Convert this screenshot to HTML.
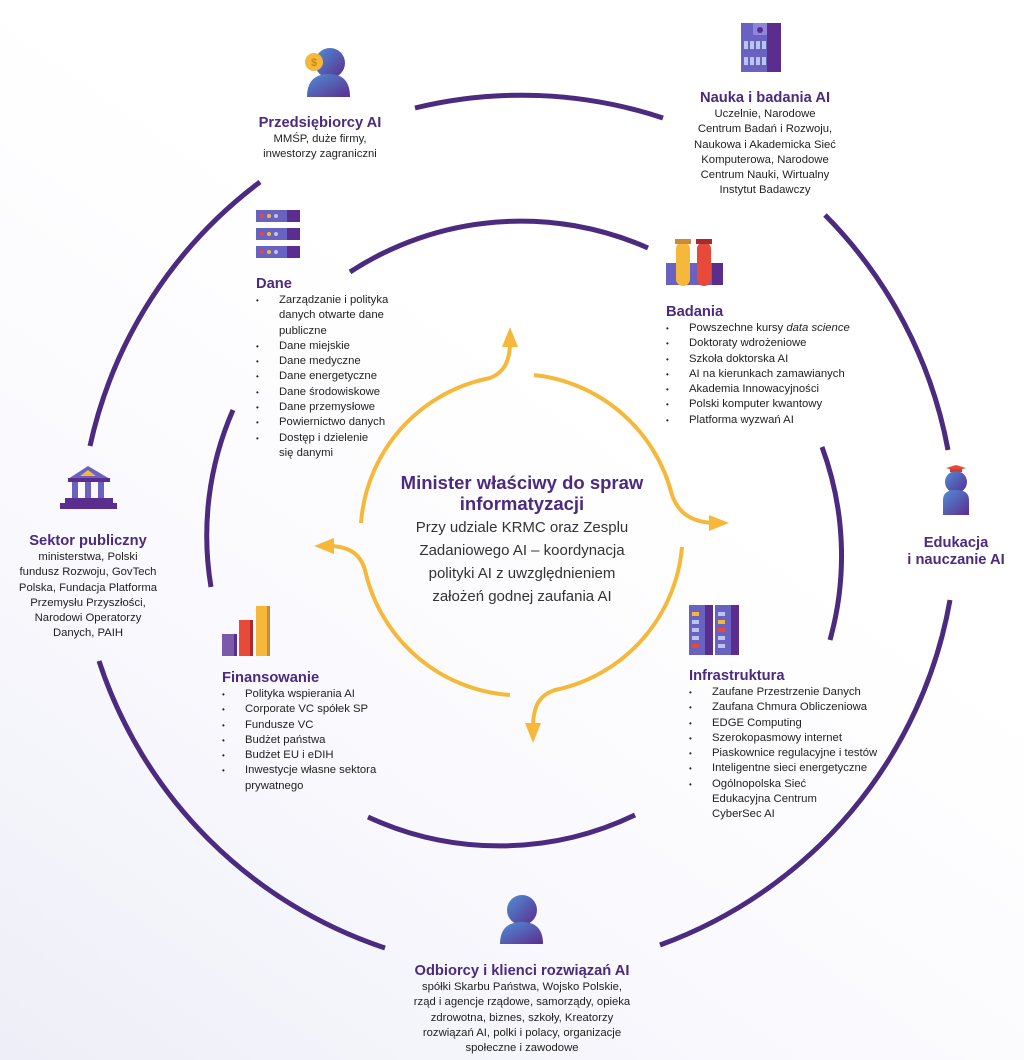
<!DOCTYPE html>
<html><head><meta charset="utf-8"><style>
body{margin:0;width:1024px;height:1060px;position:relative;overflow:hidden;font-family:"Liberation Sans",sans-serif;background:linear-gradient(35deg,#eeeef8 0%,#fafafe 35%,#ffffff 60%);}
.t{position:absolute;color:#222;font-size:11.3px;line-height:15.3px;}
.c{text-align:center;}
.h{color:#4b2a7f;font-weight:bold;font-size:14.7px;line-height:17px;}
ul{margin:0;padding:0;list-style:none;}
li{position:relative;padding-left:23px;}
li:before{content:"•";position:absolute;left:0;font-size:8px;}
svg{position:absolute;left:0;top:0;}
</style></head><body>
<svg width="1024" height="1060">
<defs>
<linearGradient id="pg" x1="0" y1="0" x2="1" y2="1"><stop offset="0" stop-color="#4f8fd6"/><stop offset="1" stop-color="#5b2d8e"/></linearGradient>
</defs>
<g fill="none" stroke="#4b2a7f" stroke-width="5">
<path d="M415,108 A450,450 0 0 1 663,118"/>
<path d="M825,215 A450,450 0 0 1 948,450"/>
<path d="M950,600 A450,450 0 0 1 660,945"/>
<path d="M385,948 A450,450 0 0 1 99,661"/>
<path d="M90,446 A450,450 0 0 1 260,182"/>
<path d="M350,272 A313,313 0 0 1 648,248"/>
<path d="M822,447 A313,313 0 0 1 830,640"/>
<path d="M635,815 A313,313 0 0 1 368,817"/>
<path d="M211,587 A313,313 0 0 1 233,410"/>
</g>
<g fill="none" stroke="#f5b83a" stroke-width="4">
<path d="M361,523 A160,160 0 0 1 490,378 C505,372 510,360 510,342"/>
<path d="M534,375 A160,160 0 0 1 672,495 C678,512 690,522 714,523"/>
<path d="M682,547 A160,160 0 0 1 555,690 C540,695 533,705 533,728"/>
<path d="M510,695 A160,160 0 0 1 365,570 C360,553 348,546 328,546"/>
</g>
<g fill="#f5b83a">
<polygon points="510,327 502,347 518,347"/>
<polygon points="729,523 709,515 709,531"/>
<polygon points="533,743 525,723 541,723"/>
<polygon points="314,546 334,538 334,554"/>
</g>
<circle cx="330" cy="63" r="15" fill="url(#pg)"/>
<path d="M307,97 Q307,74 329,74 Q350,74 350,97 Z" fill="url(#pg)"/>
<circle cx="314" cy="62" r="9" fill="#f5b83a"/>
<text x="314" y="66" font-size="11" font-weight="bold" fill="#c98a10" text-anchor="middle" font-family="Liberation Sans">$</text>
<rect x="741" y="23" width="40" height="49" fill="#6a62c0"/><rect x="767" y="23" width="14" height="49" fill="#5b2d8e"/>
<rect x="753" y="23" width="14" height="12" fill="#8e86d8"/><circle cx="760" cy="30" r="3" fill="#5b2d8e"/>
<g fill="#b9c6ee"><rect x="744" y="41" width="4" height="8"/><rect x="750" y="41" width="4" height="8"/><rect x="756" y="41" width="4" height="8"/><rect x="762" y="41" width="4" height="8"/><rect x="744" y="57" width="4" height="8"/><rect x="750" y="57" width="4" height="8"/><rect x="756" y="57" width="4" height="8"/><rect x="762" y="57" width="4" height="8"/></g>
<g><rect x="256" y="210" width="44" height="12" fill="#6a62c0"/><rect x="287" y="210" width="13" height="12" fill="#5b2d8e"/>
<rect x="256" y="228" width="44" height="12" fill="#6a62c0"/><rect x="287" y="228" width="13" height="12" fill="#5b2d8e"/>
<rect x="256" y="246" width="44" height="12" fill="#6a62c0"/><rect x="287" y="246" width="13" height="12" fill="#5b2d8e"/>
<g fill="#e84a3a"><circle cx="262" cy="216" r="2"/><circle cx="262" cy="234" r="2"/><circle cx="262" cy="252" r="2"/></g>
<g fill="#f5b83a"><circle cx="269" cy="216" r="2"/><circle cx="269" cy="234" r="2"/><circle cx="269" cy="252" r="2"/></g>
<g fill="#b9c6ee"><circle cx="276" cy="216" r="2"/><circle cx="276" cy="234" r="2"/><circle cx="276" cy="252" r="2"/></g></g>
<rect x="666" y="263" width="57" height="22" fill="#6a62c0"/><rect x="712" y="263" width="11" height="22" fill="#5b2d8e"/>
<rect x="676" y="242" width="14" height="44" rx="7" fill="#f5b83a"/><rect x="675" y="239" width="16" height="5" fill="#c98a3a"/>
<rect x="697" y="242" width="14" height="44" rx="7" fill="#e84a3a"/><rect x="696" y="239" width="16" height="5" fill="#a82a2a"/>
<polygon points="88,466 68,479 110,479" fill="#6a62c0"/><polygon points="88,470 80,476 96,476" fill="#f5b83a"/>
<rect x="68" y="478" width="42" height="4" fill="#5b2d8e"/>
<g fill="#6a62c0"><rect x="72" y="482" width="6" height="16"/><rect x="85" y="482" width="6" height="16"/><rect x="98" y="482" width="6" height="16"/></g>
<rect x="65" y="498" width="48" height="6" fill="#5b2d8e"/><rect x="60" y="503" width="57" height="6" fill="#5b2d8e"/>
<circle cx="956" cy="482" r="11" fill="url(#pg)"/>
<path d="M943,515 L943,500 Q943,490 956,490 Q969,490 969,500 L969,515 Z" fill="url(#pg)"/>
<polygon points="946,468 956,465 966,468 956,471" fill="#e84a3a"/><rect x="950" y="469" width="12" height="3" fill="#d83a2a"/>
<rect x="222" y="634" width="15" height="22" fill="#7b5aaa"/><rect x="234" y="634" width="3" height="22" fill="#5b2d8e"/>
<rect x="239" y="620" width="14" height="36" fill="#e84a3a"/><rect x="250" y="620" width="3" height="36" fill="#a82a2a"/>
<rect x="256" y="606" width="14" height="50" fill="#f5b83a"/><rect x="267" y="606" width="3" height="50" fill="#c98a3a"/>
<rect x="689" y="605" width="24" height="50" fill="#6a62c0"/><rect x="705" y="605" width="8" height="50" fill="#5b2d8e"/>
<rect x="715" y="605" width="24" height="50" fill="#6a62c0"/><rect x="731" y="605" width="8" height="50" fill="#5b2d8e"/>
<g fill="#b9c6ee"><rect x="692" y="620" width="7" height="4"/><rect x="692" y="628" width="7" height="4"/><rect x="692" y="636" width="7" height="4"/><rect x="718" y="612" width="7" height="4"/><rect x="718" y="636" width="7" height="4"/><rect x="718" y="644" width="7" height="4"/></g>
<rect x="692" y="612" width="7" height="4" fill="#f5b83a"/><rect x="692" y="644" width="7" height="4" fill="#e84a3a"/><rect x="718" y="620" width="7" height="4" fill="#f5b83a"/><rect x="718" y="628" width="7" height="4" fill="#e84a3a"/>
<circle cx="522" cy="910" r="15" fill="url(#pg)"/>
<path d="M500,944 Q500,922 522,922 Q543,922 543,944 Z" fill="url(#pg)"/>
</svg>

<div class="t c" style="left:210px;top:115px;width:220px;"><div class="h">Przedsiębiorcy AI</div>MMŚP, duże firmy,<br>inwestorzy zagraniczni</div>
<div class="t c" style="left:655px;top:90px;width:220px;"><div class="h">Nauka i badania AI</div>Uczelnie, Narodowe<br>Centrum Badań i Rozwoju,<br>Naukowa i Akademicka Sieć<br>Komputerowa, Narodowe<br>Centrum Nauki, Wirtualny<br>Instytut Badawczy</div>
<div class="t" style="left:256px;top:276px;width:160px;"><div class="h">Dane</div><ul><li>Zarządzanie i polityka danych otwarte dane publiczne</li><li>Dane miejskie</li><li>Dane medyczne</li><li>Dane energetyczne</li><li>Dane środowiskowe</li><li>Dane przemysłowe</li><li>Powiernictwo danych</li><li>Dostęp i dzielenie<br>się danymi</li></ul></div>
<div class="t" style="left:666px;top:304px;width:260px;"><div class="h">Badania</div><ul><li>Powszechne kursy <i>data science</i></li><li>Doktoraty wdrożeniowe</li><li>Szkoła doktorska AI</li><li>AI na kierunkach zamawianych</li><li>Akademia Innowacyjności</li><li>Polski komputer kwantowy</li><li>Platforma wyzwań AI</li></ul></div>
<div class="t c" style="left:-6px;top:533px;width:188px;"><div class="h">Sektor publiczny</div>ministerstwa, Polski<br>fundusz Rozwoju, GovTech<br>Polska, Fundacja Platforma<br>Przemysłu Przyszłości,<br>Narodowi Operatorzy<br>Danych, PAIH</div>
<div class="t c" style="left:891px;top:535px;width:130px;"><div class="h">Edukacja<br>i nauczanie AI</div></div>
<div class="t c" style="left:362px;top:472px;width:320px;color:#333;font-size:15px;line-height:23px;"><div class="h" style="font-size:18.5px;line-height:21px;margin-bottom:2px;">Minister właściwy do spraw<br>informatyzacji</div>Przy udziale KRMC oraz Zesplu<br>Zadaniowego AI – koordynacja<br>polityki AI z uwzględnieniem<br>założeń godnej zaufania AI</div>
<div class="t" style="left:222px;top:670px;width:180px;"><div class="h">Finansowanie</div><ul><li>Polityka wspierania AI</li><li>Corporate VC spółek SP</li><li>Fundusze VC</li><li>Budżet państwa</li><li>Budżet EU i eDIH</li><li>Inwestycje własne sektora prywatnego</li></ul></div>
<div class="t" style="left:689px;top:668px;width:230px;"><div class="h">Infrastruktura</div><ul><li>Zaufane Przestrzenie Danych</li><li>Zaufana Chmura Obliczeniowa</li><li>EDGE Computing</li><li>Szerokopasmowy internet</li><li>Piaskownice regulacyjne i testów</li><li>Inteligentne sieci energetyczne</li><li>Ogólnopolska Sieć<br>Edukacyjna Centrum<br>CyberSec AI</li></ul></div>
<div class="t c" style="left:362px;top:963px;width:320px;"><div class="h">Odbiorcy i klienci rozwiązań AI</div>spółki Skarbu Państwa, Wojsko Polskie,<br>rząd i agencje rządowe, samorządy, opieka<br>zdrowotna, biznes, szkoły, Kreatorzy<br>rozwiązań AI, polki i polacy, organizacje<br>społeczne i zawodowe</div>
</body></html>
